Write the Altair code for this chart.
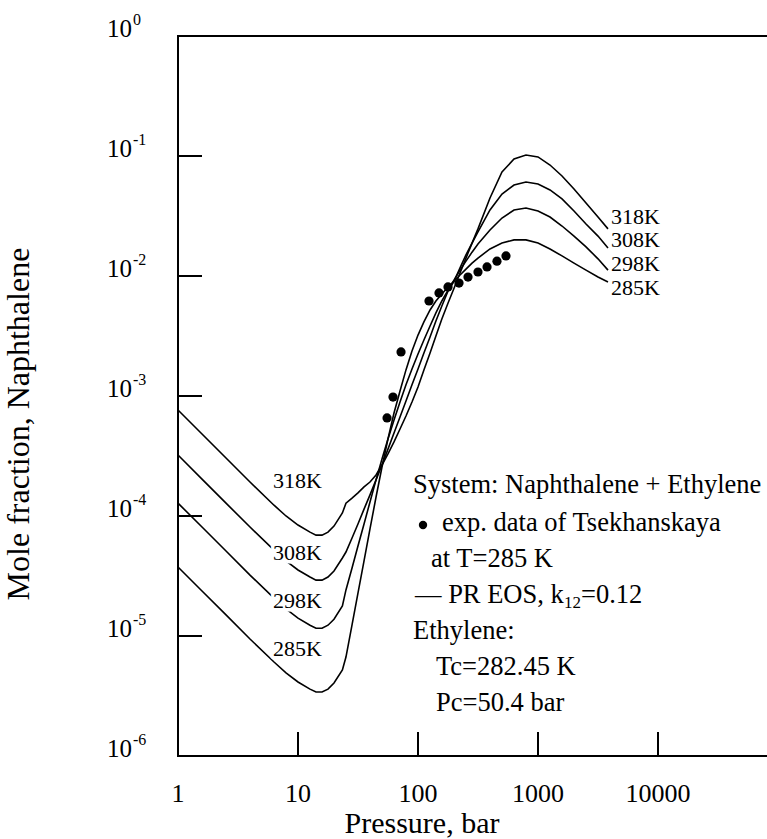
import altair as alt
import pandas as pd

FONT = "Liberation Serif"
W, H = 589, 720

# ---------------- data ----------------
temps = ["318K", "308K", "298K", "285K"]

# pressures (bar) of the low-pressure branch and of the dense branch
p_low = [1, 1.585, 2.512, 3.981, 6.310, 7.943, 10, 12.59, 14.13, 15.85, 17.78, 19.95, 23.44]
p_high = [25.1, 28.2, 31.6, 35.5, 39.8, 44.7, 50.1, 56.2, 63.1, 70.8, 79.4, 89.1, 100,
          112, 126, 141, 158, 178, 200, 224, 251, 282, 316, 398, 501, 631, 794, 1000,
          1259, 1585, 1995, 2512, 3162, 3830]

y318_low = [7.64e-4, 4.82e-4, 3.04e-4, 1.92e-4, 1.23e-4, 1.00e-4, 8.41e-5, 7.34e-5,
            6.93e-5, 6.93e-5, 7.34e-5, 8.24e-5, 1.06e-4]
y308_low = [3.22e-4, 2.03e-4, 1.28e-4, 8.09e-5, 5.20e-5, 4.22e-5, 3.55e-5, 3.10e-5,
            2.92e-5, 2.92e-5, 3.10e-5, 3.48e-5, 4.47e-5]
y298_low = [1.28e-4, 8.09e-5, 5.11e-5, 3.22e-5, 2.07e-5, 1.68e-5, 1.41e-5, 1.23e-5,
            1.16e-5, 1.16e-5, 1.23e-5, 1.38e-5, 1.78e-5]
y285_low = [3.76e-5, 2.37e-5, 1.50e-5, 9.44e-6, 6.07e-6, 4.92e-6, 4.14e-6, 3.61e-6,
            3.41e-6, 3.41e-6, 3.61e-6, 4.06e-6, 5.21e-6]

y318_high = [1.28e-4, 1.41e-4, 1.56e-4, 1.75e-4, 1.92e-4, 2.20e-4, 2.66e-4, 3.29e-4,
             4.14e-4, 5.31e-4, 6.81e-4, 8.91e-4, 1.19e-3, 1.65e-3, 2.28e-3, 3.16e-3,
             4.39e-3, 5.96e-3, 7.94e-3, 1.06e-2, 1.41e-2, 1.88e-2, 2.47e-2, 4.47e-2,
             7.36e-2, 9.44e-2, 1.02e-1, 9.82e-2, 8.41e-2, 6.81e-2, 5.31e-2, 4.06e-2,
             3.10e-2, 2.47e-2]
y308_high = [5.01e-5, 6.56e-5, 8.57e-5, 1.14e-4, 1.50e-4, 2.00e-4, 2.66e-4, 3.61e-4,
             4.92e-4, 6.68e-4, 9.08e-4, 1.24e-3, 1.68e-3, 2.28e-3, 3.10e-3, 4.22e-3,
             5.62e-3, 7.50e-3, 9.08e-3, 1.17e-2, 1.50e-2, 1.88e-2, 2.33e-2, 3.55e-2,
             4.82e-2, 5.73e-2, 6.07e-2, 5.85e-2, 5.21e-2, 4.39e-2, 3.48e-2, 2.71e-2,
             2.15e-2, 1.71e-2]
y298_high = [2.42e-5, 3.69e-5, 5.62e-5, 8.57e-5, 1.31e-4, 2.00e-4, 2.99e-4, 4.39e-4,
             6.31e-4, 8.91e-4, 1.24e-3, 1.68e-3, 2.24e-3, 2.93e-3, 3.83e-3, 4.92e-3,
             6.19e-3, 7.64e-3, 9.27e-3, 1.12e-2, 1.33e-2, 1.58e-2, 1.85e-2, 2.42e-2,
             3.04e-2, 3.55e-2, 3.69e-2, 3.48e-2, 3.10e-2, 2.61e-2, 2.15e-2, 1.75e-2,
             1.39e-2, 1.12e-2]
y285_high = [6.68e-6, 1.24e-5, 2.28e-5, 4.22e-5, 7.80e-5, 1.44e-4, 2.56e-4, 4.39e-4,
             7.21e-4, 1.10e-3, 1.65e-3, 2.37e-3, 3.22e-3, 4.14e-3, 5.21e-3, 6.19e-3,
             7.08e-3, 8.09e-3, 9.08e-3, 1.02e-2, 1.14e-2, 1.28e-2, 1.41e-2, 1.68e-2,
             1.88e-2, 2.00e-2, 2.00e-2, 1.88e-2, 1.68e-2, 1.47e-2, 1.28e-2, 1.12e-2,
             9.82e-3, 8.91e-3]

# experimental data of Tsekhanskaya at 285 K
exp_p = [55.2, 61.9, 72.2, 123.5, 149.6, 177.8, 219.6, 261, 316, 376, 455, 541]
exp_y = [6.56e-4, 9.8e-4, 2.33e-3, 6.19e-3, 7.22e-3, 8.1e-3, 8.74e-3, 9.8e-3,
         1.08e-2, 1.19e-2, 1.33e-2, 1.47e-2]

# axis ticks / labels
x_ticks = [1, 10, 100, 1000, 10000]
x_tick_labels = ["1", "10", "100", "1000", "10000"]
x_inner_ticks = [10, 100, 1000, 10000]
y_ticks = [1, 0.1, 0.01, 0.001, 1e-4, 1e-5, 1e-6]
y_exponents = ["0", "-1", "-2", "-3", "-4", "-5", "-6"]
y_inner_ticks = [0.1, 0.01, 0.001, 1e-4, 1e-5]

# curve label anchors
right_lab_p = [4060, 4060, 4060, 4060]
right_lab_y = [2.71e-2, 1.75e-2, 1.10e-2, 6.95e-3]
left_lab_p = [6.19, 6.19, 6.19, 6.19]
left_lab_y = [1.71e-4, 4.30e-5, 1.71e-5, 6.81e-6]

# ---------------- tables ----------------
rows = []
for T, yl, yh in [("318K", y318_low, y318_high), ("308K", y308_low, y308_high),
                  ("298K", y298_low, y298_high), ("285K", y285_low, y285_high)]:
    for p, v in zip(p_low + p_high, yl + yh):
        rows.append({"T": T, "P": p, "y": v})
curves = pd.DataFrame(rows)
exp_df = pd.DataFrame({"P": exp_p, "y": exp_y})
xt_df = pd.DataFrame({"v": x_inner_ticks})
yt_df = pd.DataFrame({"v": y_inner_ticks})
xlab_df = pd.DataFrame({"v": x_ticks, "t": x_tick_labels})
ylab_df = pd.DataFrame({"v": y_ticks, "base": ["10"] * len(y_ticks), "e": y_exponents})
rlab_df = pd.DataFrame({"P": right_lab_p, "y": right_lab_y, "T": temps})
llab_df = pd.DataFrame({"P": left_lab_p, "y": left_lab_y, "T": temps})
one = pd.DataFrame({"v": [0]})

xscale = alt.Scale(type="log", domain=[1, 80950], nice=False)
yscale = alt.Scale(type="log", domain=[1e-6, 1], nice=False)


def X(field):
    return alt.X(field, type="quantitative", scale=xscale, axis=None)


def Y(field):
    return alt.Y(field, type="quantitative", scale=yscale, axis=None)


lines = alt.Chart(curves).mark_line(color="black", strokeWidth=1.6).encode(
    x=X("P"), y=Y("y"), detail="T:N", order="P:Q",
)

points = alt.Chart(exp_df).mark_circle(color="black", size=85, opacity=1).encode(
    x=X("P"), y=Y("y"),
)

xticks = alt.Chart(xt_df).mark_rule(color="black", strokeWidth=2).encode(
    x=X("v"), y=alt.value(H), y2=alt.value(H - 24),
)
yticks = alt.Chart(yt_df).mark_rule(color="black", strokeWidth=2).encode(
    y=Y("v"), x=alt.value(0), x2=alt.value(24),
)

frame_style = dict(color="black", strokeWidth=2)
top_line = alt.Chart(one).mark_rule(**frame_style).encode(
    x=alt.value(0), x2=alt.value(W), y=alt.value(0))
bottom_line = alt.Chart(one).mark_rule(**frame_style).encode(
    x=alt.value(-1), x2=alt.value(W), y=alt.value(H))
left_line = alt.Chart(one).mark_rule(**frame_style).encode(
    x=alt.value(0), y=alt.value(-1), y2=alt.value(H + 1))

xlab = alt.Chart(xlab_df).mark_text(
    align="center", baseline="alphabetic", font=FONT, fontSize=26, color="black"
).encode(x=X("v"), y=alt.value(H + 46), text="t:N")

ylab_base = alt.Chart(ylab_df).mark_text(
    align="left", baseline="alphabetic", font=FONT, fontSize=25, color="black", dy=1
).encode(y=Y("v"), x=alt.value(-71), text="base:N")
ylab_exp = alt.Chart(ylab_df).mark_text(
    align="left", baseline="alphabetic", font=FONT, fontSize=16, color="black", dy=-11
).encode(y=Y("v"), x=alt.value(-45), text="e:N")

xtitle = alt.Chart(one).mark_text(
    text="Pressure, bar", align="center", baseline="alphabetic", font=FONT,
    fontSize=30, color="black").encode(x=alt.value(244), y=alt.value(H + 77))
ytitle = alt.Chart(one).mark_text(
    text="Mole fraction, Naphthalene", align="center", baseline="alphabetic",
    font=FONT, fontSize=32, color="black", angle=270).encode(
    x=alt.value(-149), y=alt.value(388))

rlab = alt.Chart(rlab_df).mark_text(
    align="left", baseline="alphabetic", font=FONT, fontSize=22, color="black"
).encode(x=X("P"), y=Y("y"), text="T:N")
llab_halo = alt.Chart(llab_df).mark_text(
    align="left", baseline="alphabetic", font=FONT, fontSize=22, color="white",
    stroke="white", strokeWidth=7, strokeJoin="round"
).encode(x=X("P"), y=Y("y"), text="T:N")
llab = alt.Chart(llab_df).mark_text(
    align="left", baseline="alphabetic", font=FONT, fontSize=22, color="black"
).encode(x=X("P"), y=Y("y"), text="T:N")

# legend / annotation block
LFS = 26.5


def note(txt, x, y, size=LFS):
    return alt.Chart(one).mark_text(
        text=txt, align="left", baseline="alphabetic", font=FONT, fontSize=size,
        color="black").encode(x=alt.value(x), y=alt.value(y))


bullet = alt.Chart(one).mark_circle(color="black", size=70, opacity=1).encode(
    x=alt.value(245), y=alt.value(489))

notes = [
    note("System: Naphthalene + Ethylene", 235, 457),
    note("exp. data of Tsekhanskaya", 264, 495),
    note("at T=285 K", 253, 531),
    note("\u2014 PR EOS, k", 237, 567),
    note("12", 386, 572, 17),
    note("=0.12", 403, 567),
    note("Ethylene:", 235, 603),
    note("Tc=282.45 K", 258, 639),
    note("Pc=50.4 bar", 258, 675),
]

chart = alt.layer(
    lines, points, xticks, yticks, top_line, bottom_line, left_line,
    xlab, ylab_base, ylab_exp, xtitle, ytitle, rlab, llab_halo, llab, bullet, *notes
).properties(
    width=W, height=H,
    padding={"left": 178, "top": 36, "right": 0, "bottom": 83},
    autosize=alt.AutoSizeParams(type="none"),
).configure_view(stroke=None).configure(background="white")

chart.save("out.html", embed_options={"renderer": "svg", "actions": False})
